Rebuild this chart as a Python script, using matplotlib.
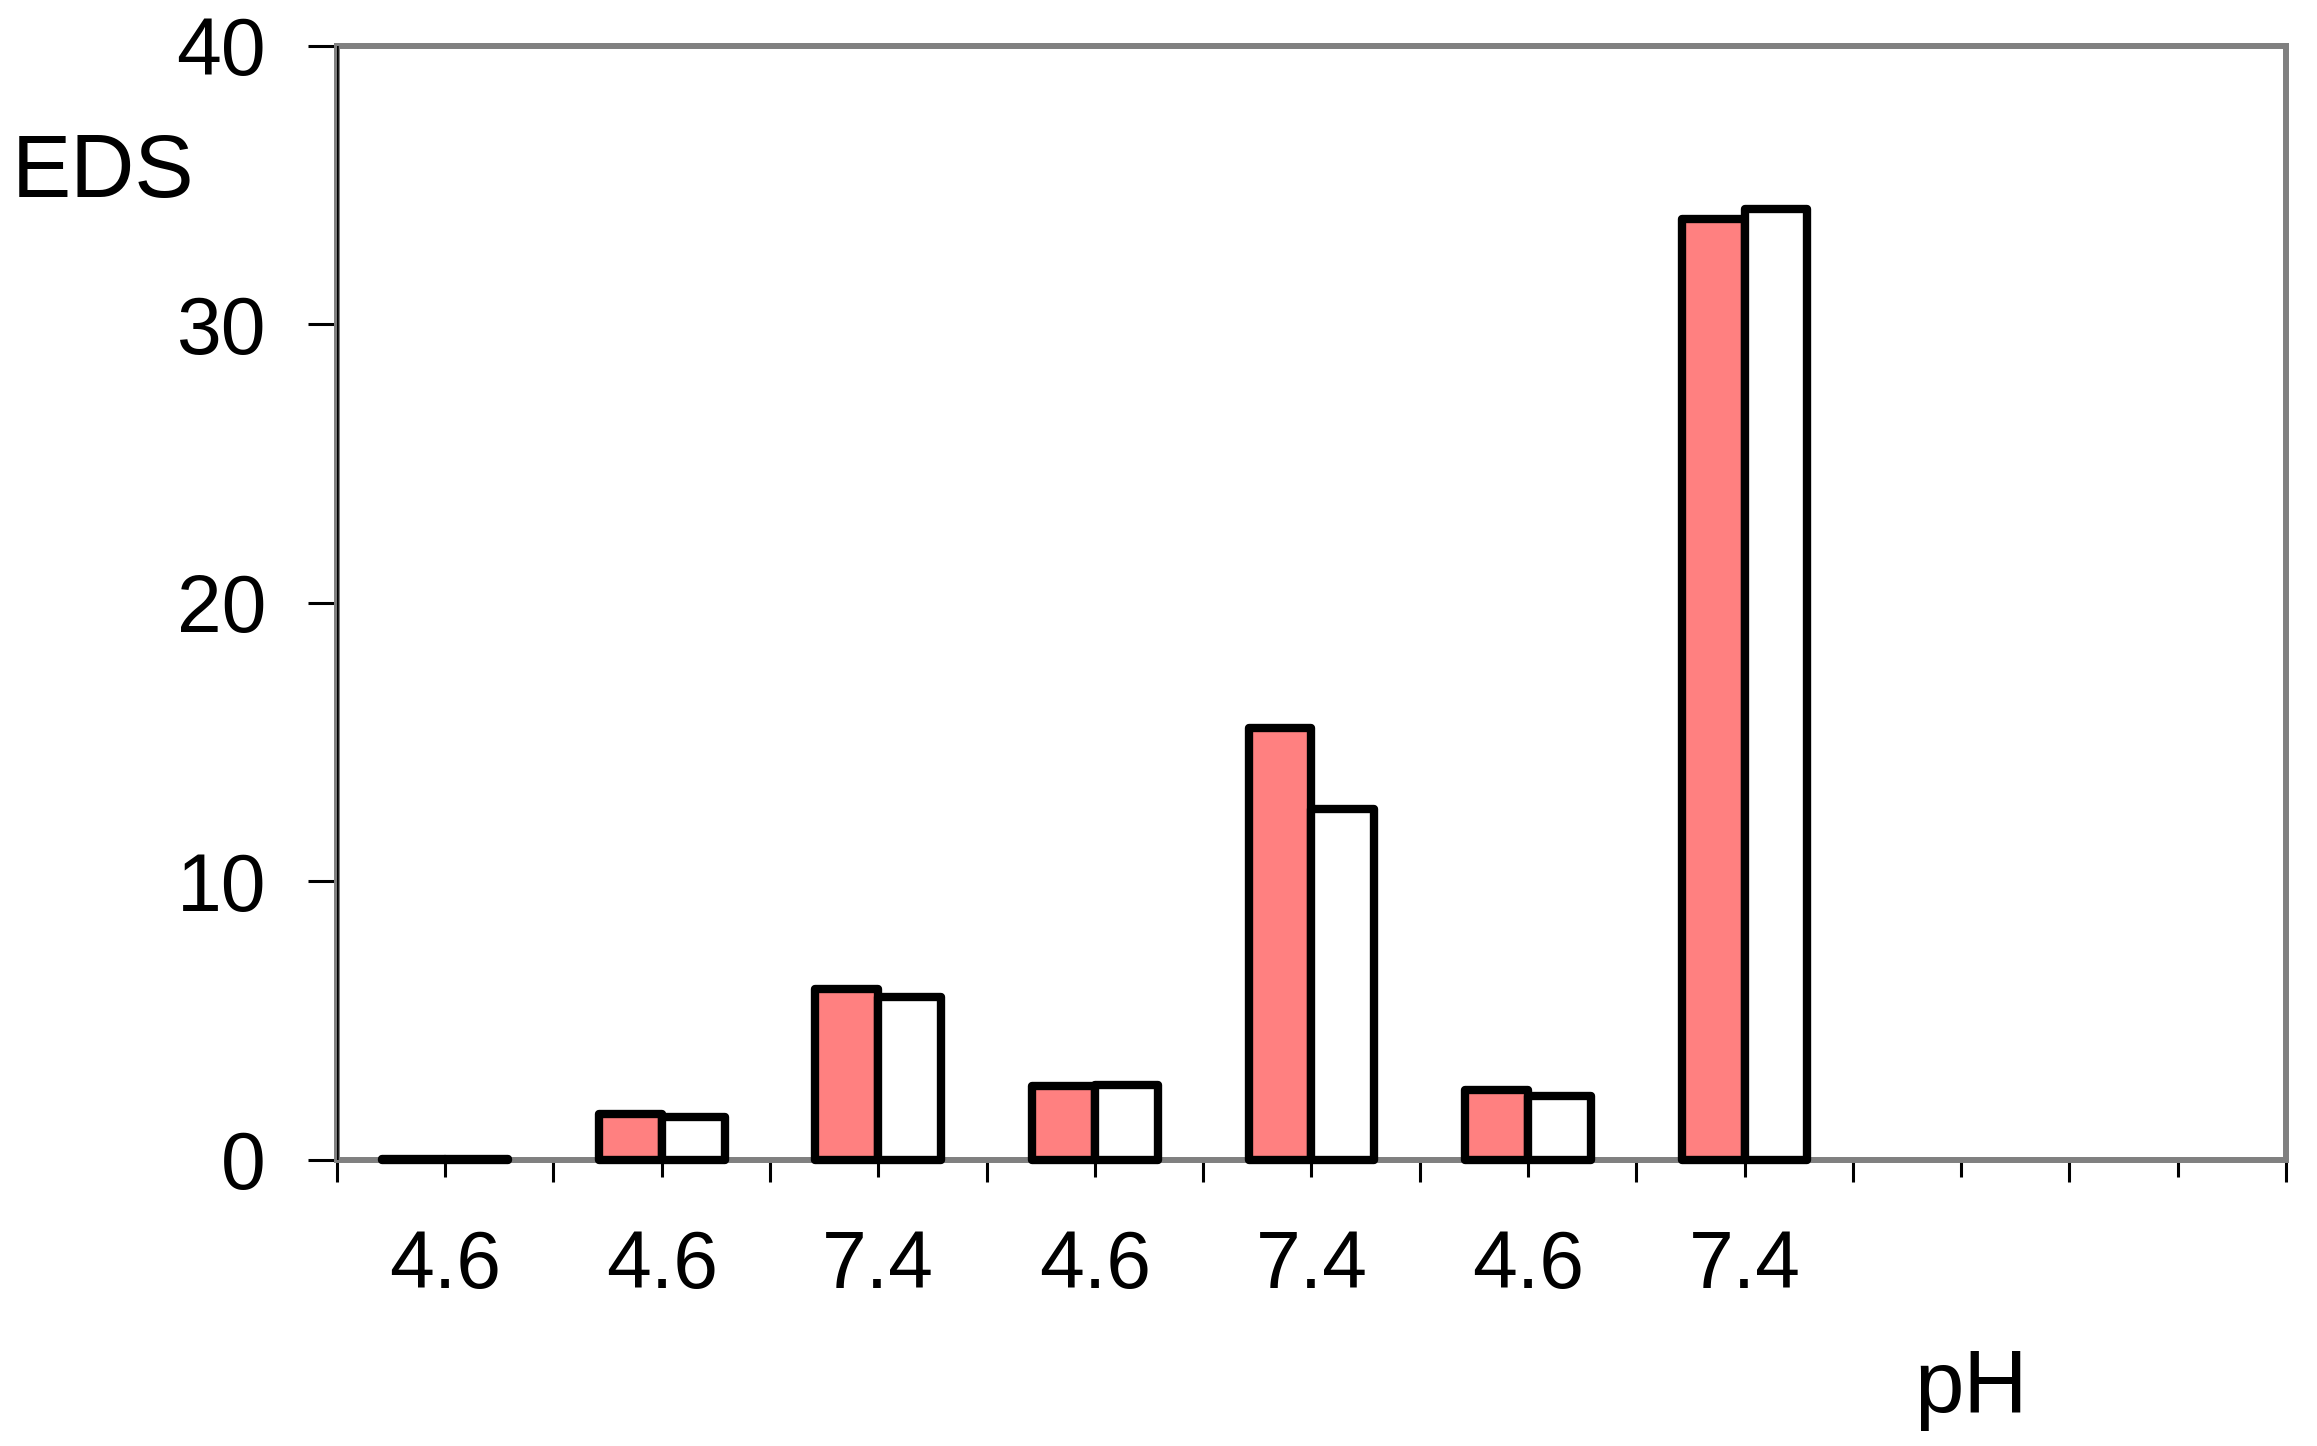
import numpy as np
import matplotlib.pyplot as plt
from matplotlib.ticker import FixedLocator

plt.rcParams['font.family'] = ['Liberation Sans', 'DejaVu Sans']

# data
ph_labels = ["4.6", "4.6", "7.4", "4.6", "7.4", "4.6", "7.4", "", ""]
series_a = [0.05, 1.65, 6.15, 2.65, 15.5, 2.5, 33.8]   # pink bars
series_b = [0.05, 1.55, 5.85, 2.7, 12.6, 2.3, 34.15]   # white bars

fig = plt.figure(figsize=(23.17, 14.46), dpi=100)
ax = fig.add_axes([0.1454, 0.1978, 0.8412, 0.7704])

x = np.arange(len(series_a))
w = 0.29
ax.bar(x - w / 2, series_a, width=w, color="#FF8080", edgecolor="black",
       linewidth=6, joinstyle="round", clip_on=False, zorder=3)
ax.bar(x + w / 2, series_b, width=w, color="white", edgecolor="black",
       linewidth=6, joinstyle="round", clip_on=False, zorder=3)

ax.set_xlim(-0.5, len(ph_labels) - 0.5)
ax.set_ylim(0, 40)

for s in ax.spines.values():
    s.set_color("#808080")
    s.set_linewidth(4.3)
ax.axvline(-0.5, color="black", linewidth=1.8, zorder=5)

ax.set_yticks([0, 10, 20, 30, 40])
ax.tick_params(axis="y", direction="out", length=21, width=2.2, color="black",
               labelsize=58, pad=30)

ax.set_xticks(np.arange(len(ph_labels)))
ax.set_xticklabels(ph_labels)
ax.xaxis.set_minor_locator(FixedLocator(np.arange(-0.5, len(ph_labels), 1.0)))
ax.tick_params(axis="x", which="major", direction="out", length=12, width=2.2,
               color="black", labelsize=58, pad=38)
ax.tick_params(axis="x", which="minor", direction="out", length=16, width=2.2,
               color="black")

fig.text(12 / 2317, 1 - 174 / 1446, "EDS", fontsize=64, ha="left", va="center")
fig.text(1914 / 2317, 1 - 1389 / 1446, "pH", fontsize=64, ha="left", va="center")

fig.savefig("out.png", dpi=100)
